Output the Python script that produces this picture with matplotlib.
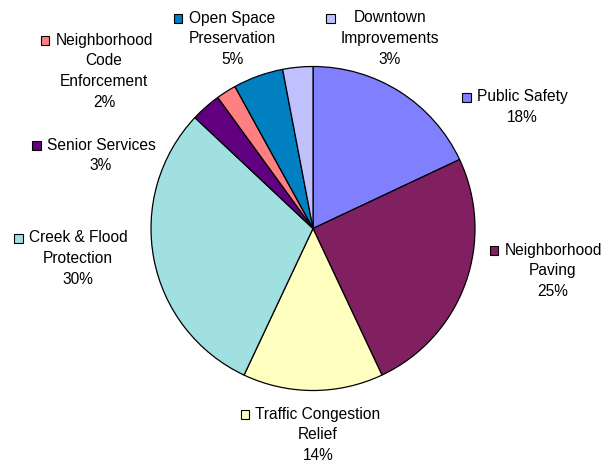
import matplotlib
matplotlib.use("Agg")
import matplotlib.pyplot as plt
from matplotlib.patches import Rectangle

# Budget allocation by program area (percent)
categories = ["Public Safety", "Neighborhood Paving", "Traffic Congestion Relief",
              "Creek & Flood Protection", "Senior Services",
              "Neighborhood Code Enforcement", "Open Space Preservation",
              "Downtown Improvements"]
shares = [18, 25, 14, 30, 3, 2, 5, 3]

# How each category name wraps in its label
label_lines = [
    ["Public Safety"],
    ["Neighborhood", "Paving"],
    ["Traffic Congestion", "Relief"],
    ["Creek & Flood", "Protection"],
    ["Senior Services"],
    ["Neighborhood", "Code", "Enforcement"],
    ["Open Space", "Preservation"],
    ["Downtown", "Improvements"],
]

colors = ["#8080FF", "#802060", "#FFFFC0", "#A0E0E0",
          "#600080", "#FF8080", "#0080C0", "#C0C0FF"]

# Label placement: (center x, first-line y), in pixels from the top-left
label_anchor = [(522, 97), (553, 250), (318, 414), (78, 238),
                (101, 145), (104, 40), (232, 18), (390, 18)]

W, H = 607, 462
LINE_STEP = 20.8
FONT = "Liberation Sans"
FSIZE = 11.2

fig = plt.figure(figsize=(W / 100, H / 100), dpi=100)
ax = fig.add_axes([0, 0, 1, 1])
ax.set_xlim(0, W)
ax.set_ylim(0, H)
ax.set_aspect("equal")
ax.axis("off")

ax.pie(shares, colors=colors, startangle=90, counterclock=False,
       center=(313, H - 228.5), radius=162,
       wedgeprops=dict(edgecolor="black", linewidth=0.9))
ax.set_xlim(0, W)
ax.set_ylim(0, H)

label_texts = []
for lines, share, (cx, cy) in zip(label_lines, shares, label_anchor):
    rows = lines + [f"{share}%"]
    objs = []
    for i, row in enumerate(rows):
        t = ax.text(cx, H - (cy + i * LINE_STEP), row, ha="center", va="center",
                    fontsize=FSIZE, family=FONT, color="black")
        objs.append(t)
    label_texts.append(objs)

fig.canvas.draw()
renderer = fig.canvas.get_renderer()
inv = ax.transData.inverted()
for objs, color, (cx, cy) in zip(label_texts, colors, label_anchor):
    left = min(inv.transform(o.get_window_extent(renderer))[0][0] for o in objs)
    size = 8.5
    ax.add_patch(Rectangle((left - 6 - size, H - cy - size / 2 - 0.5), size, size,
                           facecolor=color, edgecolor="black", linewidth=0.8,
                           clip_on=False))

fig.savefig("out.png", dpi=100, facecolor="white")
